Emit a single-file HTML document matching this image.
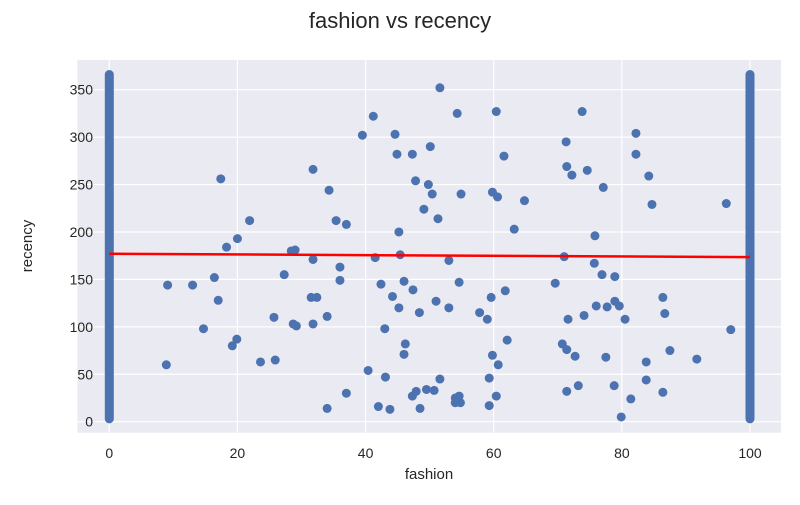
<!DOCTYPE html>
<html><head><meta charset="utf-8"><style>
body{margin:0;background:#fff;}
svg text{font-family:"Liberation Sans",sans-serif;fill:#262626;}
</style></head><body>
<svg id="chart" width="800" height="500" xmlns="http://www.w3.org/2000/svg">
<text x="400" y="28" text-anchor="middle" font-size="22">fashion vs recency</text>
<rect x="77.5" y="60" width="703.5" height="372.7" fill="#eaeaf2"/>
<g id="grid"></g><g id="ticks"></g><g id="marks"></g>
<text x="429" y="479" text-anchor="middle" font-size="15">fashion</text>
<text transform="translate(32,246) rotate(-90)" text-anchor="middle" font-size="15">recency</text>
</svg>
<script>
const xTicks=[0,20,40,60,80,100];
const yTicks=[0,50,100,150,200,250,300,350];
const xs=[9.1,8.9,13.0,14.7,16.4,17.0,17.4,18.3,19.2,19.9,20.0,21.9,23.6,25.7,25.9,27.3,28.4,29.0,28.7,29.2,31.5,32.4,31.8,31.8,31.8,34.0,34.0,34.3,35.4,36.0,36.0,37.0,37.0,39.5,40.4,41.2,41.5,42.0,42.4,43.0,43.1,43.8,44.2,44.6,44.9,45.2,45.4,45.2,46.0,46.2,46.0,47.3,47.4,47.3,47.9,47.8,48.4,48.5,49.1,49.5,49.8,50.1,50.4,50.7,51.0,51.3,51.6,51.6,53.0,53.0,54.3,54.9,54.6,54.0,54.6,54.0,54.8,57.8,59.0,59.3,59.3,59.6,59.8,59.8,60.4,60.6,60.7,60.4,61.6,61.8,62.1,63.2,64.8,69.6,70.7,71.0,71.3,71.4,71.6,71.4,71.4,72.2,72.7,73.2,73.8,74.1,74.6,75.8,75.7,76.0,76.9,77.1,77.7,77.5,78.9,78.9,79.6,78.8,79.9,80.5,81.4,82.2,82.2,83.8,83.8,84.2,84.7,86.4,86.7,86.4,87.5,91.7,96.3,97.0];
const ys=[144,60,144,98,152,128,256,184,80,87,193,212,63,110,65,155,180,181,103,101,131,131,171,103,266,111,14,244,212,163,149,208,30,302,54,322,173,16,145,98,47,13,132,303,282,200,176,120,148,82,71,282,139,27,32,254,115,14,224,34,250,290,240,33,127,214,45,352,170,120,325,240,147,25,27,20,20,115,108,46,17,131,242,70,327,237,60,27,280,138,86,203,233,146,82,174,295,269,108,76,32,260,69,38,327,112,265,196,167,122,155,247,121,68,153,127,122,38,5,108,24,304,282,63,44,259,229,131,114,31,75,66,230,97];
const barXs=[0,100];
const barYMin=[3,3];
const barYMax=[366,366];
const fitX=[0,100];
const fitY=[177,173.5];
const NS="http://www.w3.org/2000/svg";
const sx=v=>109.3+v*6.407, sy=v=>421.7-v*0.9486;
function mk(t,a,p){const e=document.createElementNS(NS,t);for(const k in a)e.setAttribute(k,a[k]);p.appendChild(e);return e;}
const grid=document.getElementById('grid'),ticks=document.getElementById('ticks'),marks=document.getElementById('marks');
xTicks.forEach(v=>{
 const l=mk('line',{x1:sx(v),x2:sx(v),y1:60,y2:432.7,stroke:'#fff','stroke-width':1.2},grid);
 
 
 const t=mk('text',{x:sx(v),y:458,'text-anchor':'middle','font-size':14},ticks);t.textContent=v;
 
 
});
yTicks.forEach(v=>{
 const l=mk('line',{x1:77.5,x2:781,y1:sy(v),y2:sy(v),stroke:'#fff','stroke-width':1.2},grid);
 
 
 const t=mk('text',{x:93,y:sy(v)+5,'text-anchor':'end','font-size':14},ticks);t.textContent=v;
 
 
});
barXs.forEach((v,i)=>{
 const l=mk('line',{x1:sx(v),x2:sx(v),y1:sy(barYMin[i]),y2:sy(barYMax[i]),stroke:'#4c72b0','stroke-width':9,'stroke-linecap':'round'},marks);
 
 
});
xs.forEach((v,i)=>{
 const c=mk('circle',{cx:sx(v),cy:sy(ys[i]),r:4.5,fill:'#4c72b0'},marks);
 
 
});
const fl=mk('line',{x1:sx(fitX[0]),y1:sy(fitY[0]),x2:sx(fitX[1]),y2:sy(fitY[1]),stroke:'#ff0000','stroke-width':2.5},marks);


</script>
</body></html>
